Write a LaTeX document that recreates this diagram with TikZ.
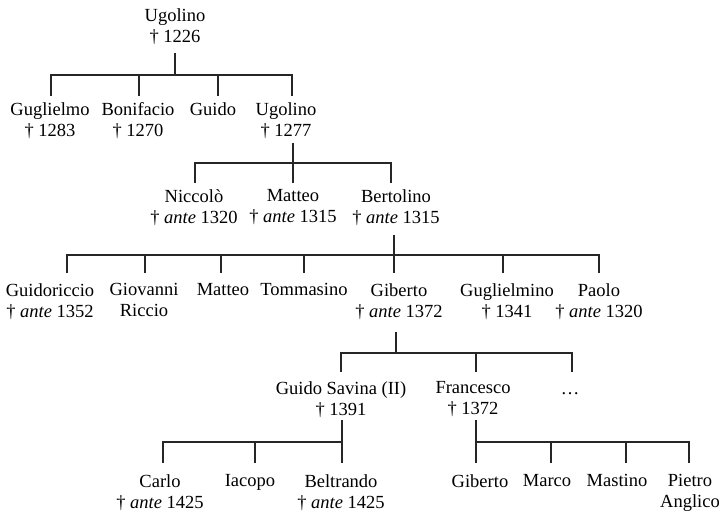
\documentclass[tikz,border=0pt]{standalone}
\usepackage{fontspec}
\setmainfont{Liberation Serif}
\begin{document}
\begin{tikzpicture}[x=1pt, y=-1pt,
    person/.style={anchor=north, align=center, inner sep=0pt, text=black,
        font=\fontsize{18.5}{21}\selectfont},
    tree/.style={line width=2.3pt, draw=black!85, line join=miter}]

    \useasboundingbox (0,0) rectangle (721,513);

    \node[person] (ugolino) at (175,8) {Ugolino\\† 1226};

    \node[person] (guglielmo) at (50,102.5) {Guglielmo\\† 1283};
    \node[person] (bonifacio) at (138,102.5) {Bonifacio\\† 1270};
    \node[person] (guido) at (213,102.5) {Guido};
    \node[person] (ugolino2) at (286,102.5) {Ugolino\\† 1277};

    \node[person] (niccolo) at (194,189.5) {Niccolò\\† \textit{ante} 1320};
    \node[person] (matteo) at (293,189.5) {Matteo\\† \textit{ante} 1315};
    \node[person] (bertolino) at (396,189.5) {Bertolino\\† \textit{ante} 1315};

    \node[person] (guidoriccio) at (50,283.5) {Guidoriccio\\† \textit{ante} 1352};
    \node[person] (giovanni) at (144,283.5) {Giovanni\\Riccio};
    \node[person] (matteo2) at (223,283.5) {Matteo};
    \node[person] (tommasino) at (304,283.5) {Tommasino};
    \node[person] (giberto) at (399,283.5) {Giberto\\† \textit{ante} 1372};
    \node[person] (guglielmino) at (507,283.5) {Guglielmino\\† 1341};
    \node[person] (paolo) at (599,283.5) {Paolo\\† \textit{ante} 1320};

    \node[person] (guidosavina) at (341,381.5) {Guido Savina (II)\\† 1391};
    \node[person] (francesco) at (473,381.5) {Francesco\\† 1372};
    \node[person] (others) at (570,381.5) {\vphantom{l}…};

    \node[person] (carlo) at (160,474.5) {Carlo\\† \textit{ante} 1425};
    \node[person] (iacopo) at (250,474.5) {Iacopo};
    \node[person] (beltrando) at (341,474.5) {Beltrando\\† \textit{ante} 1425};
    \node[person] (giberto2) at (480,474.5) {Giberto};
    \node[person] (marco) at (547,474.5) {Marco};
    \node[person] (mastino) at (617,474.5) {Mastino};
    \node[person] (pietro) at (690,474.5) {Pietro\\Anglico};

    \coordinate (bus0) at (175,75);
    \coordinate (bus1) at (293,163);
    \coordinate (bus2) at (394,255);
    \coordinate (bus3) at (396,353);
    \coordinate (bus4) at (342,442);
    \coordinate (bus5) at (476,442);

    % Ugolino + 1226
    \draw[tree] ([yshift=-45]ugolino.north) -- (bus0);
    \draw[tree] ([xshift=1,yshift=6.5]guglielmo.north) |- (bus0);
    \draw[tree] ([xshift=1,yshift=6.5]bonifacio.north) |- (bus0);
    \draw[tree] ([xshift=5,yshift=6.5]guido.north) |- (bus0);
    \draw[tree] ([xshift=6,yshift=6.5]ugolino2.north) |- (bus0);

    % Ugolino + 1277
    \draw[tree] ([xshift=7,yshift=-40.5]ugolino2.north) -- (bus1);
    \draw[tree] ([xshift=1,yshift=6.5]niccolo.north) |- (bus1);
    \draw[tree] ([yshift=6.5]matteo.north) |- (bus1);
    \draw[tree] ([xshift=-5,yshift=6.5]bertolino.north) |- (bus1);

    % Bertolino
    \draw[tree] ([xshift=-2,yshift=-45.5]bertolino.north) -- (bus2);
    \draw[tree] ([xshift=17,yshift=10.5]guidoriccio.north) |- (bus2);
    \draw[tree] ([xshift=1,yshift=10.5]giovanni.north) |- (bus2);
    \draw[tree] ([xshift=-2,yshift=10.5]matteo2.north) |- (bus2);
    \draw[tree] ([yshift=10.5]tommasino.north) |- (bus2);
    \draw[tree] ([xshift=-5,yshift=10.5]giberto.north) |- (bus2);
    \draw[tree] ([xshift=-4,yshift=10.5]guglielmino.north) |- (bus2);
    \draw[tree] ([yshift=10.5]paolo.north) |- (bus2);

    % Giberto
    \draw[tree] ([xshift=-3,yshift=-48.5]giberto.north) -- (bus3);
    \draw[tree] ([yshift=9.5]guidosavina.north) |- (bus3);
    \draw[tree] ([xshift=3,yshift=9.5]francesco.north) |- (bus3);
    \draw[tree] ([xshift=2,yshift=9.5]others.north) |- (bus3);

    % Guido Savina
    \draw[tree] ([xshift=1,yshift=-38.5]guidosavina.north) -- (bus4);
    \draw[tree] ([xshift=3,yshift=11.5]carlo.north) |- (bus4);
    \draw[tree] ([xshift=5,yshift=11.5]iacopo.north) |- (bus4);
    \draw[tree] ([xshift=1,yshift=11.5]beltrando.north) |- (bus4);

    % Francesco
    \draw[tree] ([xshift=3,yshift=-38.5]francesco.north) -- (bus5);
    \draw[tree] ([xshift=-4,yshift=11.5]giberto2.north) |- (bus5);
    \draw[tree] ([xshift=4,yshift=11.5]marco.north) |- (bus5);
    \draw[tree] ([xshift=9,yshift=11.5]mastino.north) |- (bus5);
    \draw[tree] ([xshift=-1,yshift=11.5]pietro.north) |- (bus5);

\end{tikzpicture}
\end{document}
